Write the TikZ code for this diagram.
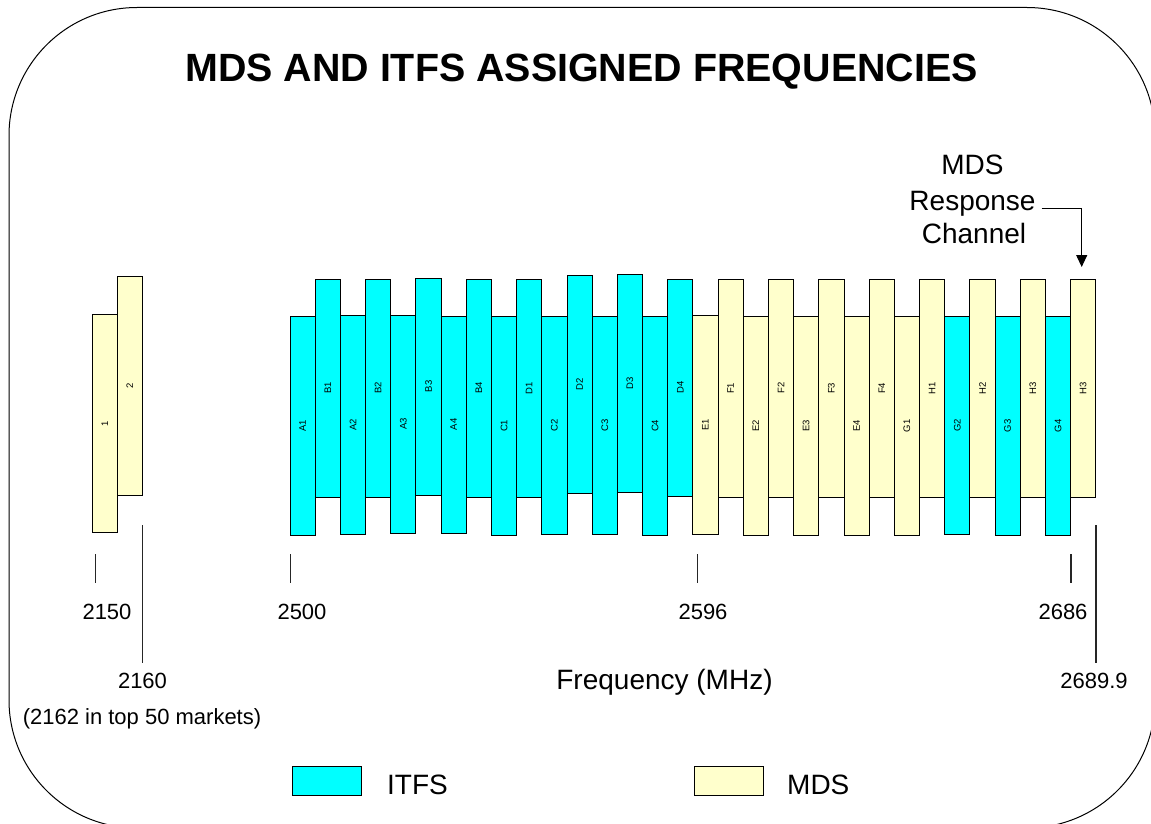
\documentclass[tikz,border=0pt]{standalone}
\usepackage{fontspec}
\setmainfont{Liberation Sans}
\usetikzlibrary{arrows.meta}
\definecolor{itfs}{HTML}{00FFFF}
\definecolor{mds}{HTML}{FFFFCC}
\begin{document}
\begin{tikzpicture}[x=1pt,y=-1pt,
  bar/.style={draw=black, line width=0.9pt, inner sep=0pt, outer sep=0pt, anchor=north west,
              minimum width=25.18pt, font=\fontsize{9.5}{10}\selectfont},
  tick/.style={draw=black!85, line width=1.1pt},
  num/.style={anchor=base, inner sep=0pt, font=\fontsize{22}{26}\selectfont},
  big/.style={anchor=base, inner sep=0pt, font=\fontsize{28}{32}\selectfont},
  legbox/.style={draw=black, line width=1pt, inner sep=0pt, anchor=north west,
              minimum width=69pt, minimum height=29pt},
  frame/.style={draw=black, line width=1pt, rounded corners=128pt}]
\useasboundingbox (0,0) rectangle (1151,824);
\begin{scope}
  \clip (0,0) rectangle (1151,824);
  \draw[frame] (9,7.5) rectangle (1155,828);
\end{scope}

\node[anchor=base, inner sep=0pt, font=\bfseries\fontsize{39.4}{44}\selectfont] (title) at (581.5,82) {MDS AND ITFS ASSIGNED FREQUENCIES};

% 2150 / 2160 channels
\node[bar, fill=mds, minimum height=218.4pt] (barone) at (92.3,314.3) {\rotatebox{90}{1}};
\node[bar, fill=mds, minimum height=218.3pt] (bartwo) at (117.3,276.7) {\rotatebox{90}{2}};

% 2500-2690 channels
\foreach \i/\lab/\col/\t/\b in {
  0/A1/itfs/316.7/535, 1/B1/itfs/279/497, 2/A2/itfs/315.7/534, 3/B2/itfs/279/497,
  4/A3/itfs/315/533, 5/B3/itfs/278/495, 6/A4/itfs/316/533, 7/B4/itfs/279/497,
  8/C1/itfs/316.7/535, 9/D1/itfs/279.3/497, 10/C2/itfs/316/534, 11/D2/itfs/275.3/493,
  12/C3/itfs/316/534, 13/D3/itfs/274.3/492.3, 14/C4/itfs/316.7/535, 15/D4/itfs/279/496.3,
  16/E1/mds/315.7/534.3, 17/F1/mds/279.3/497.3, 18/E2/mds/316.7/535, 19/F2/mds/279/497,
  20/E3/mds/316.7/535, 21/F3/mds/279/497.7, 22/E4/mds/316.7/535, 23/F4/mds/279/497.7,
  24/G1/mds/316.7/535, 25/H1/mds/279.3/497, 26/G2/itfs/316.7/534, 27/H2/mds/279.3/497.7,
  28/G3/itfs/316.7/535, 29/H3/mds/279.3/497.7, 30/G4/itfs/316.7/535, 31/H3/mds/279.3/497.7} {
  \pgfmathsetmacro\xx{290+\i*25.18}
  \pgfmathsetmacro\hh{\b-\t}
  \node[bar, fill=\col, minimum height=\hh pt] (bar\i) at (\xx,\t) {\rotatebox{90}{\lab}};
}

% ticks
\coordinate (ta2150) at (95.7,554);  \coordinate (tb2150) at (95.7,583);
\coordinate (ta2160) at (142.7,525); \coordinate (tb2160) at (142.7,663);
\coordinate (ta2500) at (290.5,554); \coordinate (tb2500) at (290.5,583);
\coordinate (ta2596) at (697.7,554); \coordinate (tb2596) at (697.7,583);
\coordinate (ta2686) at (1071,554);  \coordinate (tb2686) at (1071,583);
\coordinate (ta2690) at (1096,525);  \coordinate (tb2690) at (1096,663);
\foreach \n in {2150,2160,2500,2596,2686,2690} { \draw[tick] (ta\n) -- (tb\n); }

% tick labels
\node[num] (l2150) at (107,619.3) {2150};
\node[num] (l2500) at (302,619.3) {2500};
\node[num] (l2596) at (703,619.3) {2596};
\node[num] (l2686) at (1063,619.3) {2686};
\node[num] (l2160) at (142.5,688.3) {2160};
\node[num] (l2690) at (1094,688.3) {2689.9};
\node[num] (ltop) at (142,724) {(2162 in top 50 markets)};
\node[big] (freq) at (664.5,689.3) {Frequency (MHz)};

% response channel annotation
\node[big] (rmds) at (972.5,174.3) {MDS};
\node[big] (resp) at (972.5,210) {Response};
\node[big] (rchan) at (974,243.6) {Channel};
\coordinate (ra) at (1041.7,208.3);
\coordinate (rtip) at (1081.7,267);
\draw[line width=1.1pt, -{Triangle[width=11pt,length=12pt]}] (ra) -| (rtip);

% legend
\node[legbox, fill=itfs] (legitfs) at (292,766) {};
\node[big, anchor=base west] (legitfstxt) at (387,794) {ITFS};
\node[legbox, fill=mds] (legmds) at (694,766) {};
\node[big, anchor=base west] (legmdstxt) at (787,794) {MDS};
\end{tikzpicture}
\end{document}
